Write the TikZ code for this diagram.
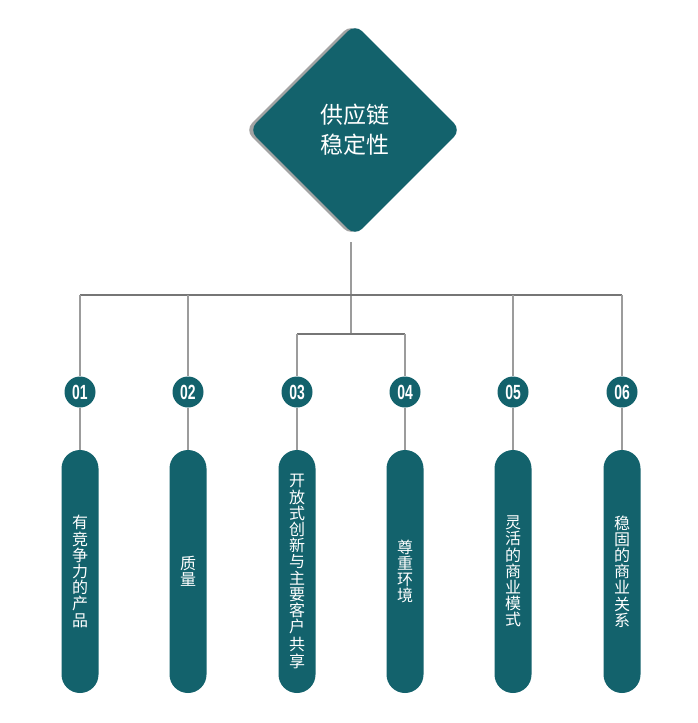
\documentclass[tikz,border=0pt]{standalone}
\usepackage{fontspec}
\usetikzlibrary{shapes.geometric}
\newfontfamily\cjk{Noto Sans CJK SC}
\newfontfamily\numfont[FakeStretch=0.68]{Liberation Sans}
\definecolor{tealc}{HTML}{13626C}
\definecolor{lineh}{HTML}{767676}
\definecolor{linev}{HTML}{9C9C9C}
\definecolor{shadowc}{HTML}{A3A3A3}
\begin{document}
\begin{tikzpicture}[x=1pt,y=-1pt,
  dia/.style={diamond, aspect=1, minimum width=212pt, minimum height=212pt, inner sep=0pt, rounded corners=10pt},
  num/.style={circle, fill=tealc, minimum size=31pt, inner sep=0pt, text=white, font=\numfont\bfseries\fontsize{20.5}{20.5}\selectfont},
  pill/.style={rectangle, fill=tealc, rounded corners=18.5pt, minimum width=37pt, minimum height=243pt, inner sep=0pt, text=white, align=center, font=\cjk\fontsize{16}{16.2}\selectfont},
  hline/.style={draw=lineh, line width=1.2pt},
  vline/.style={draw=linev, line width=1.2pt}]
\useasboundingbox[fill=white] (0,0) rectangle (698,723);
% diamond
\node[dia, fill=shadowc] (sh) at (351,130) {};
\node[dia, fill=tealc, text=white, align=center, font=\cjk\fontsize{23}{30}\selectfont] (top) at (355,130) {供应链\\稳定性};
% coordinates
\coordinate (hub) at (351,295);
\coordinate (inner) at (351,334);
\coordinate (h1) at (80,295);
\coordinate (h2) at (188,295);
\coordinate (h5) at (513,295);
\coordinate (h6) at (622,295);
\coordinate (i3) at (297,334);
\coordinate (i4) at (405,334);
% numbers
\node[num] (n1) at (80,392) {01};
\node[num] (n2) at (188,392) {02};
\node[num] (n3) at (297,392) {03};
\node[num] (n4) at (405,392) {04};
\node[num] (n5) at (513,392) {05};
\node[num] (n6) at (622,392) {06};
% pills
\node[pill] (p1) at (80,571.5) {有\\竞\\争\\力\\的\\产\\品};
\node[pill] (p2) at (188,571.5) {质\\量};
\node[pill] (p3) at (297,571.5) {开\\放\\式\\创\\新\\与\\主\\要\\客\\户\\[2pt]共\\享};
\node[pill] (p4) at (405,571.5) {尊\\重\\环\\境};
\node[pill] (p5) at (513,571.5) {灵\\活\\的\\商\\业\\模\\式};
\node[pill] (p6) at (622,571.5) {稳\\固\\的\\商\\业\\关\\系};
% connectors
\draw[vline, shorten <=6pt] (top.south -| hub) -- (hub);
\draw[vline] (hub) -- (inner);
\draw[hline] (h1) -- (h6);
\draw[hline] (i3) -- (i4);
\draw[vline] (h1) -- (n1);
\draw[vline] (h2) -- (n2);
\draw[vline] (i3) -- (n3);
\draw[vline] (i4) -- (n4);
\draw[vline] (h5) -- (n5);
\draw[vline] (h6) -- (n6);
\draw[vline] (n1) -- (p1);
\draw[vline] (n2) -- (p2);
\draw[vline] (n3) -- (p3);
\draw[vline] (n4) -- (p4);
\draw[vline] (n5) -- (p5);
\draw[vline] (n6) -- (p6);
\end{tikzpicture}
\end{document}
